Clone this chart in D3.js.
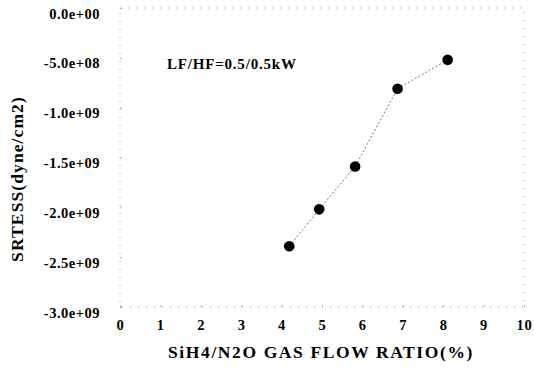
<!DOCTYPE html>
<html>
<head>
<meta charset="utf-8">
<script src="https://cdn.jsdelivr.net/npm/d3@7"></script>
<style>
  html, body { margin: 0; padding: 0; background: #fff; }
  svg { display: block; }
  text { font-family: "Liberation Serif", "Times New Roman", serif; font-weight: bold; fill: #000; }
</style>
</head>
<body>
<svg id="chart" width="534" height="369"></svg>
<script>
// SiH4/N2O flow ratio (%) vs. film stress
const flowRatio = [4.19, 4.93, 5.82, 6.87, 8.11];
const stress = [-2.39e9, -2.02e9, -1.59e9, -0.81e9, -0.52e9];
const xTicks = [0, 1, 2, 3, 4, 5, 6, 7, 8, 9, 10];
const yTicks = [0, -5e8, -1e9, -1.5e9, -2e9, -2.5e9, -3e9];
const yTickLabels = ["0.0e+00", "-5.0e+08", "-1.0e+09", "-1.5e+09", "-2.0e+09", "-2.5e+09", "-3.0e+09"];
const annotation = "LF/HF=0.5/0.5kW";
const xTitle = "SiH4/N2O GAS FLOW RATIO(%)";
const yTitle = "SRTESS(dyne/cm2)";

const svg = d3.select("#chart");
const plotLeft = 120, plotRight = 524, plotTop = 8, plotBottom = 307;

const x = d3.scaleLinear().domain([0, 10]).range([plotLeft, plotRight]);
const y = d3.scaleLinear().domain([0, -3e9]).range([plotTop, plotBottom]);

// faint dotted plot frame
svg.append("rect")
  .attr("x", plotLeft).attr("y", plotTop)
  .attr("width", plotRight - plotLeft).attr("height", plotBottom - plotTop)
  .attr("fill", "none")
  .attr("stroke", "#999")
  .attr("stroke-width", 1)
  .attr("stroke-dasharray", "1,7");

// axes (inward ticks, custom labels)
const xAxis = d3.axisBottom(x).tickValues(xTicks).tickSize(-2).tickFormat(d => d).tickPadding(14);
const yAxis = d3.axisLeft(y).tickValues(yTicks).tickSize(-2)
  .tickFormat((d, i) => yTickLabels[i]).tickPadding(20);

const gx = svg.append("g").attr("transform", `translate(0,${plotBottom})`).call(xAxis);
const gy = svg.append("g").attr("transform", `translate(${plotLeft},0)`).call(yAxis);
[gx, gy].forEach(g => {
  g.select(".domain").remove();
  g.selectAll(".tick line").attr("stroke", "#aaa").attr("stroke-width", 1);
  g.selectAll("text")
    .attr("font-size", 14.5)
    .attr("font-family", "Liberation Serif, serif")
    .attr("font-weight", "bold")
    .attr("fill", "#000");
});
gy.selectAll("text").attr("dy", "0.7em").attr("letter-spacing", 0.5);
gx.selectAll("text").attr("dy", "0.6em").attr("letter-spacing", 0.8);

// connecting dotted line
const line = d3.line().x((d, i) => x(flowRatio[i])).y(d => y(d));
svg.append("path")
  .datum(stress)
  .attr("d", line)
  .attr("fill", "none")
  .attr("stroke", "#777")
  .attr("stroke-width", 1)
  .attr("stroke-dasharray", "2,2");

// data points
svg.append("g").selectAll("circle")
  .data(stress)
  .join("circle")
  .attr("cx", (d, i) => x(flowRatio[i]))
  .attr("cy", d => y(d))
  .attr("r", 5.3)
  .attr("fill", "#000");

// annotation
svg.append("text")
  .attr("x", 167).attr("y", 69)
  .attr("font-size", 15)
  .attr("letter-spacing", 0.8)
  .text(annotation);

// axis titles
svg.append("text")
  .attr("x", 321).attr("y", 358)
  .attr("text-anchor", "middle")
  .attr("font-size", 17.5)
  .attr("letter-spacing", 1.6)
  .text(xTitle);

svg.append("text")
  .attr("transform", "translate(23,179) rotate(-90)")
  .attr("text-anchor", "middle")
  .attr("font-size", 17.5)
  .attr("letter-spacing", 1.1)
  .text(yTitle);
</script>
</body>
</html>
